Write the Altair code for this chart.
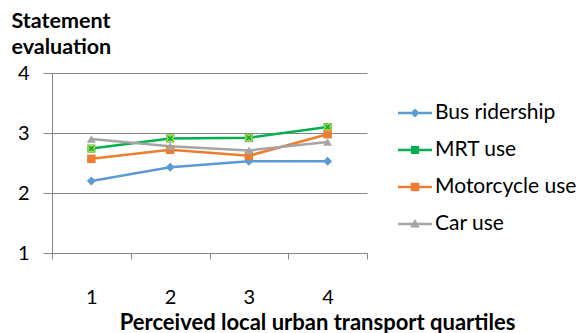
import altair as alt
import pandas as pd

# Mean statement evaluation by perceived local urban transport quartile
quartiles = ["1", "2", "3", "4"]
series = ["Bus ridership", "MRT use", "Motorcycle use", "Car use"]
bus_ridership = [2.20, 2.43, 2.53, 2.53]
mrt_use = [2.74, 2.91, 2.92, 3.10]
motorcycle_use = [2.57, 2.72, 2.62, 2.98]
car_use = [2.90, 2.78, 2.71, 2.85]

colors = ["#5B9BD5", "#00B050", "#ED7D31", "#A5A5A5"]
marker_shapes = ["diamond", "square", "square", "triangle-up"]
marker_sizes = [80, 64, 72, 80]
# legend glyphs: a short bar with the series marker in the middle;
# the leading moves give every glyph the same bounding box
frame = "M-1,-1M1,1"
bar = "M-1,-0.075H1V0.075H-1Z"
legend_glyphs = [
    frame + bar + "M0,-0.27L0.27,0L0,0.27L-0.27,0Z",
    frame + bar + "M-0.24,-0.24H0.24V0.24H-0.24Z",
    frame + bar + "M-0.25,-0.25H0.25V0.25H-0.25Z",
    frame + bar + "M0,-0.3L0.28,0.2L-0.28,0.2Z",
]

values = [bus_ridership, mrt_use, motorcycle_use, car_use]
rows = []
for name, vals in zip(series, values):
    for q, v in zip(quartiles, vals):
        rows.append({"quartile": q, "series": name, "value": v})
df = pd.DataFrame(rows)

FONT = "Lato"

x_enc = alt.X(
    "quartile:O",
    bandPosition=0.5,
    scale=alt.Scale(type="band", paddingInner=0, paddingOuter=0),
    axis=alt.Axis(
        title="Perceived local urban transport quartiles",
        titleFont=FONT, titleFontSize=22, titleFontWeight="bold", titleColor="#000000",
        titleX=265, titleY=76, titleAlign="center", titleBaseline="alphabetic",
        labelFont=FONT, labelFontSize=20, labelColor="#000000", labelAngle=0,
        labelPadding=28,
        tickBand="extent", tickSize=6, tickColor="#868686", tickWidth=1,
        domainColor="#868686", domainWidth=1, grid=False,
    ),
)
y_enc = alt.Y(
    "value:Q",
    scale=alt.Scale(domain=[1, 4], nice=False, zero=False),
    axis=alt.Axis(
        title=["Statement", "evaluation"],
        titleFont=FONT, titleFontSize=21.5, titleFontWeight="bold", titleColor="#000000",
        titleAngle=0, titleX=-41, titleY=-46, titleAlign="left",
        titleBaseline="alphabetic", titleLineHeight=26,
        values=[1, 2, 3, 4], format="d",
        labelFont=FONT, labelFontSize=20, labelColor="#000000", labelPadding=14,
        tickSize=9, tickColor="#868686", tickWidth=1,
        domainColor="#868686", domainWidth=1,
        grid=True, gridColor="#868686", gridWidth=1,
    ),
)

layers = []
for name, col in zip(series, colors):
    layers.append(
        alt.Chart(df)
        .transform_filter(alt.datum.series == name)
        .mark_line(strokeWidth=2.5, color=col)
        .encode(x=x_enc, y=y_enc)
    )
for name, col, shp, sz in zip(series, colors, marker_shapes, marker_sizes):
    layers.append(
        alt.Chart(df)
        .transform_filter(alt.datum.series == name)
        .mark_point(filled=True, opacity=1, shape=shp, size=sz, color=col)
        .encode(x=x_enc, y=y_enc)
    )

# yellow cross drawn inside the MRT squares
layers.append(
    alt.Chart(df)
    .transform_filter(alt.datum.series == "MRT use")
    .mark_point(shape="cross", angle=45, size=55, filled=False, strokeWidth=1.2,
                color="#C8D43A", opacity=1)
    .encode(x=x_enc, y=y_enc)
)

# invisible layer that only carries the legend
legend_layer = alt.Chart(df).mark_point(filled=True, opacity=0, size=10).encode(
    x=x_enc,
    y=y_enc,
    color=alt.Color("series:N", scale=alt.Scale(domain=series, range=colors),
                    sort=series, title=None),
    shape=alt.Shape("series:N", scale=alt.Scale(domain=series, range=legend_glyphs),
                    sort=series, title=None),
)
layers.append(legend_layer)

chart = (
    alt.layer(*layers)
    .properties(
        width=315,
        height=180,
        autosize=alt.AutoSizeParams(type="none"),
        padding={"left": 52, "top": 73, "right": 216, "bottom": 80},
        background="#FFFFFF",
    )
    .configure_view(stroke=None)
    .configure_legend(
        orient="none",
        legendX=346,
        legendY=23,
        labelFont=FONT,
        labelFontSize=21,
        labelColor="#000000",
        labelOffset=3,
        symbolSize=1156,
        symbolOpacity=1,
        symbolStrokeWidth=0,
        rowPadding=3,
        gridAlign="all",
        padding=0,
    )
)

chart.save("out.html", embed_options={"renderer": "svg", "actions": False})
